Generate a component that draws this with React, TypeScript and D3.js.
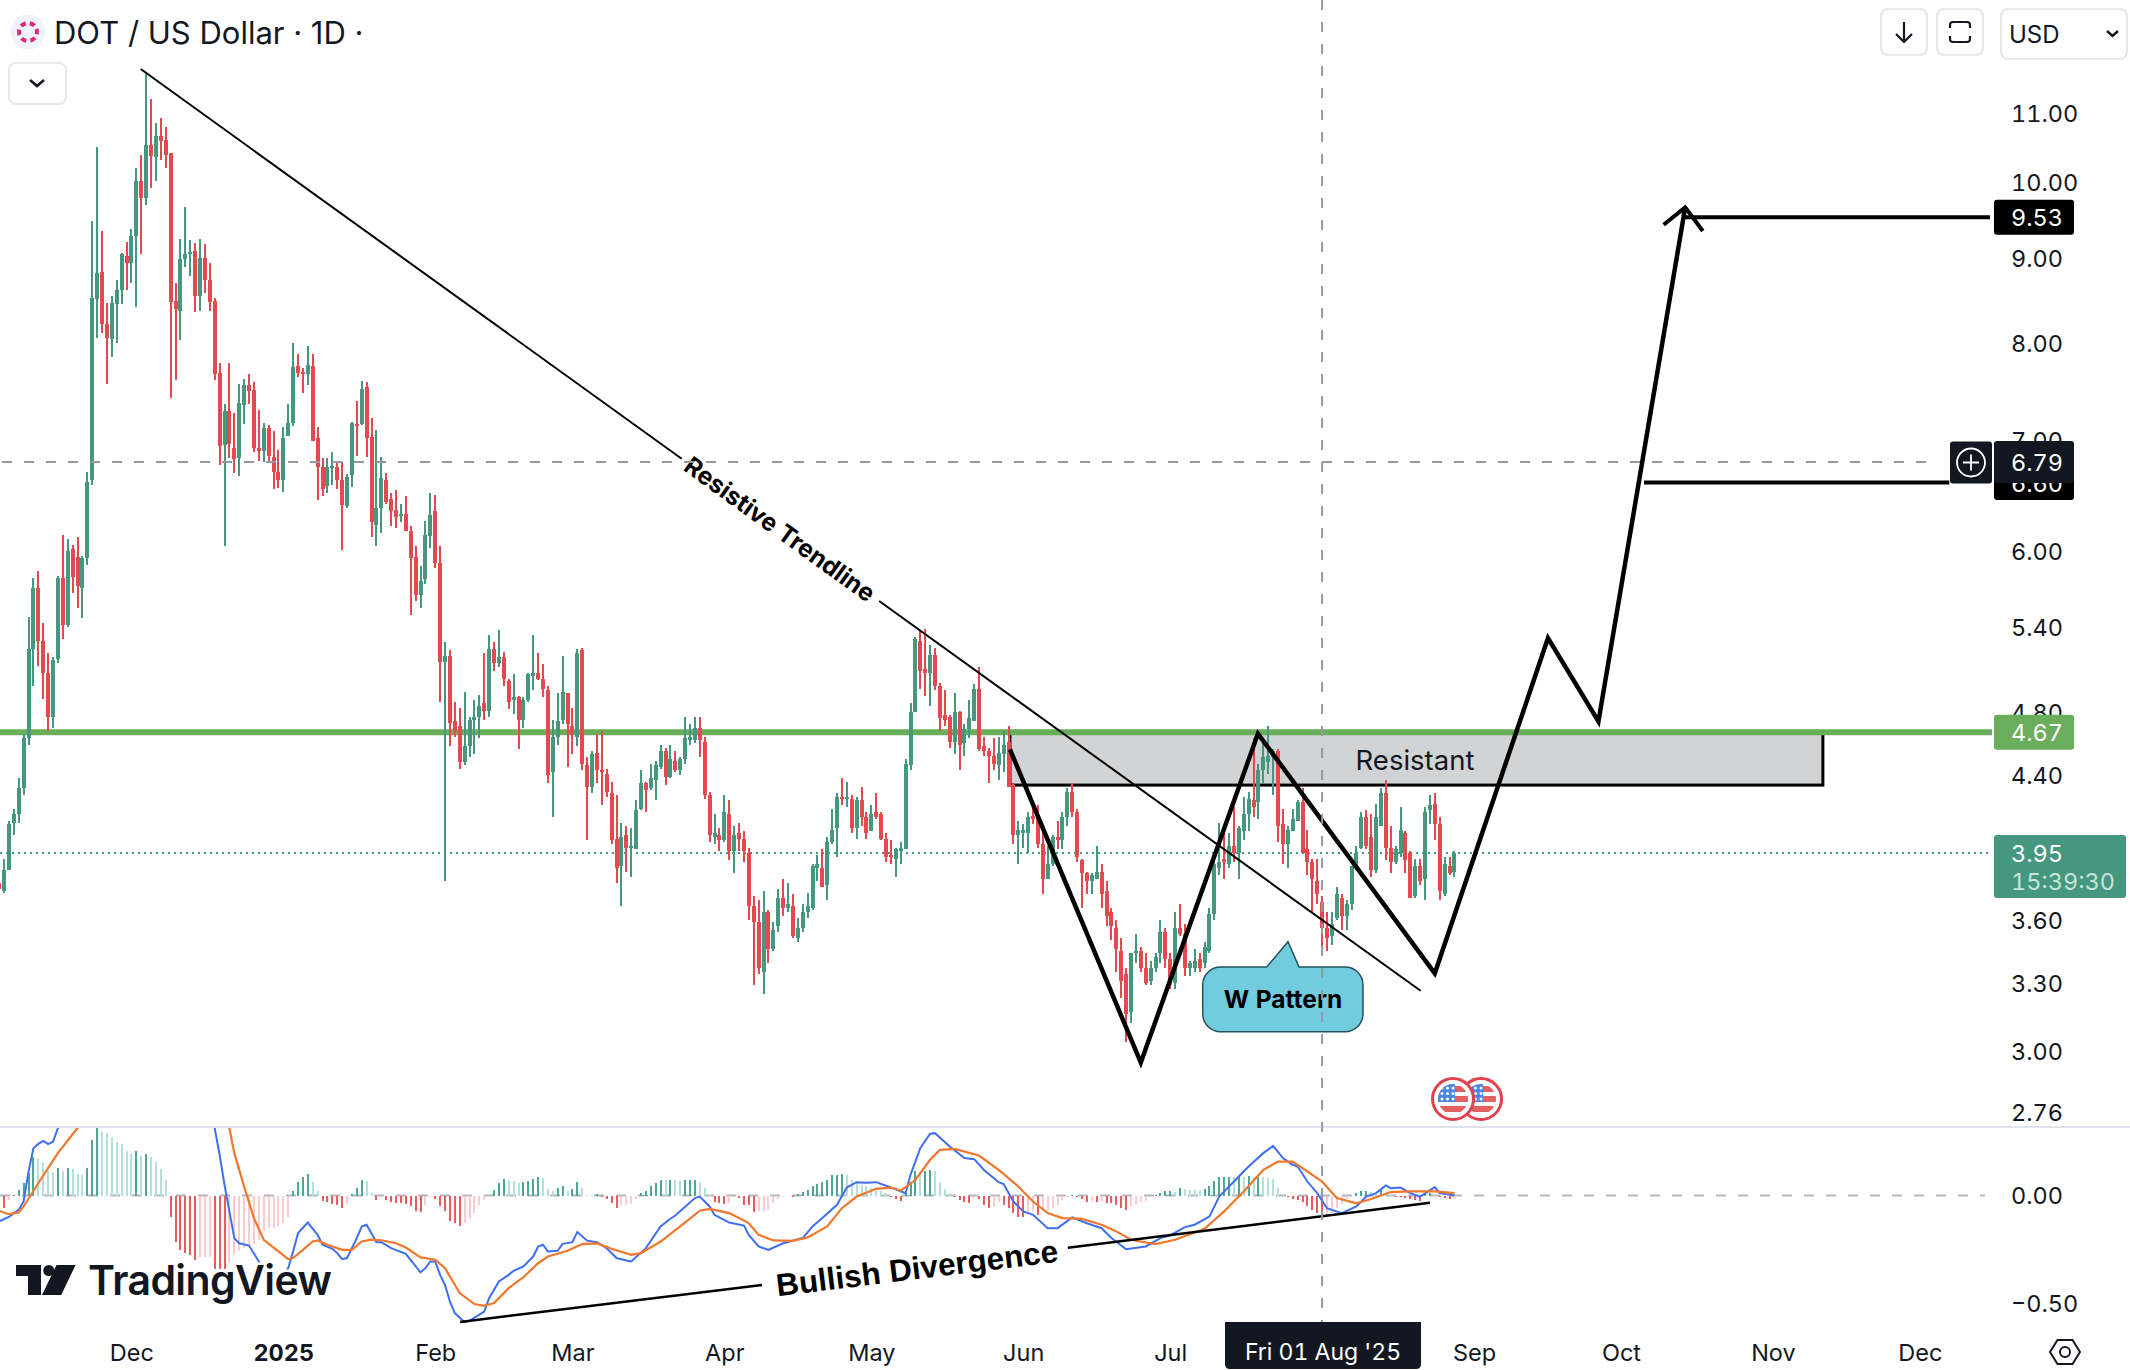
// App.tsx - DOT / USD daily chart with MACD pane and hand drawn annotations
import React, { useEffect, useRef } from "react";
import * as d3 from "d3";

const firstDay = Date.UTC(2024, 10, 4);
const lastDay = Date.UTC(2025, 11, 1);

const opens = [
  3.79,3.75,3.86,4.12,4.17,4.32,4.63,5.24,5.70,5.30,5.07,4.77,5.17,5.78,5.42,6.02,5.95,5.70,5.94,6.62,
  8.51,8.83,8.22,8.05,8.45,8.61,9.03,8.95,9.28,10.02,9.79,10.53,10.36,10.67,10.60,10.42,8.48,8.37,8.99,9.06,
  9.09,8.55,9.00,8.74,8.49,7.68,6.95,7.29,6.92,6.83,7.35,7.55,7.50,6.92,6.89,7.12,6.84,6.70,6.62,7.04,
  7.17,7.76,7.69,7.67,7.76,7.02,6.74,6.57,6.73,6.74,6.62,6.39,6.67,7.16,7.16,7.53,7.03,6.22,6.37,6.62,
  6.45,6.35,6.30,6.32,6.17,5.95,5.65,5.77,6.13,6.34,5.90,5.15,5.19,4.74,4.71,4.48,4.58,4.75,4.77,4.86,
  4.81,5.24,5.14,5.18,5.01,4.88,4.90,4.75,4.88,5.05,5.07,5.03,4.95,4.42,4.64,4.75,4.93,4.71,4.64,5.23,
  4.46,4.33,4.54,4.43,4.41,4.29,4.03,3.88,4.05,3.98,3.97,4.20,4.35,4.32,4.37,4.45,4.55,4.39,4.49,4.43,
  4.50,4.62,4.62,4.70,4.61,4.28,4.04,4.05,4.02,4.17,3.96,4.06,4.03,3.95,3.67,3.59,3.35,3.64,3.46,3.57,
  3.71,3.66,3.67,3.51,3.56,3.64,3.66,3.87,3.87,3.78,4.01,4.09,4.27,4.26,4.26,4.09,4.25,4.15,4.07,4.18,
  4.17,4.03,3.94,3.92,3.96,3.97,4.46,4.80,5.30,5.10,5.07,5.20,4.98,4.78,4.77,4.61,4.80,4.60,4.69,4.74,
  4.96,4.58,4.55,4.52,4.46,4.53,4.61,4.34,4.05,4.06,4.06,4.16,4.15,4.00,3.81,3.89,4.04,4.02,4.15,4.30,
  4.18,3.91,3.84,3.80,3.81,3.85,3.75,3.64,3.56,3.45,3.34,3.17,3.44,3.45,3.37,3.31,3.37,3.44,3.54,3.41,
  3.30,3.56,3.53,3.37,3.37,3.41,3.39,3.45,3.63,3.87,3.92,3.89,3.99,3.95,4.07,4.17,4.25,4.24,4.43,4.48,
  4.51,4.55,4.11,4.00,4.07,4.13,4.24,3.97,3.90,3.80,3.69,3.56,3.52,3.61,3.71,3.62,3.68,3.87,3.98,4.15,
  4.04,3.86,4.10,4.29,3.98,3.90,3.95,4.06,3.95,3.72,3.88,3.81,4.19,4.23,4.11,3.73,3.88,3.85,
];
const highs = [
  3.79,3.92,4.13,4.20,4.38,4.66,5.48,5.78,5.84,5.43,5.21,5.18,5.80,6.14,6.10,6.05,6.12,5.96,6.70,9.48,
  10.50,9.35,8.46,8.55,8.74,9.07,9.21,9.38,10.20,10.38,11.65,11.23,10.86,10.93,10.80,10.42,8.70,9.25,9.66,9.23,
  9.20,9.24,9.18,8.94,8.52,7.79,7.36,7.79,7.27,7.56,7.62,7.67,7.59,7.30,7.17,7.15,7.09,6.90,7.13,7.36,
  8.01,7.88,7.73,7.97,7.88,7.13,6.83,6.83,6.88,6.80,6.79,6.68,7.18,7.39,7.60,7.59,7.22,7.10,6.84,6.69,
  6.50,6.53,6.41,6.48,6.21,6.04,5.88,6.26,6.50,6.49,6.04,5.29,5.23,4.87,4.83,4.94,4.77,4.88,4.92,5.21,
  5.34,5.29,5.38,5.22,5.03,5.06,4.91,4.90,5.07,5.34,5.21,5.13,4.98,4.75,4.93,5.19,4.93,4.83,5.24,5.25,
  4.51,4.55,4.66,4.68,4.44,4.36,4.28,4.12,4.10,4.09,4.25,4.43,4.36,4.47,4.49,4.59,4.57,4.59,4.55,4.51,
  4.77,4.72,4.77,4.77,4.64,4.30,4.17,4.09,4.28,4.25,4.10,4.12,4.07,3.98,3.72,3.70,3.75,3.65,3.59,3.76,
  3.81,3.79,3.73,3.61,3.68,3.74,3.89,3.94,3.97,4.04,4.20,4.29,4.38,4.36,4.28,4.27,4.33,4.18,4.22,4.29,
  4.18,4.06,4.02,3.98,4.01,4.50,4.86,5.33,5.37,5.39,5.27,5.25,5.00,4.95,4.78,4.93,4.81,4.72,4.88,4.99,
  5.11,4.64,4.57,4.63,4.64,4.68,4.71,4.35,4.13,4.11,4.18,4.22,4.22,4.08,3.99,4.05,4.13,4.18,4.32,4.35,
  4.20,3.92,3.85,3.84,3.99,3.89,3.80,3.66,3.60,3.51,3.37,3.44,3.53,3.47,3.44,3.40,3.44,3.60,3.56,3.44,
  3.64,3.68,3.58,3.40,3.46,3.44,3.49,3.66,3.90,4.12,4.06,4.06,4.21,4.10,4.27,4.30,4.63,4.47,4.61,4.71,
  4.56,4.56,4.20,4.10,4.20,4.25,4.32,4.08,3.92,3.92,3.72,3.64,3.64,3.77,3.73,3.70,3.88,3.99,4.18,4.19,
  4.17,4.23,4.32,4.37,4.10,3.99,4.21,4.07,3.96,3.92,3.92,4.21,4.28,4.29,4.15,3.93,3.93,3.96,
];
const lows = [
  3.74,3.74,3.86,4.05,4.12,4.28,4.59,4.98,5.12,4.89,4.68,4.70,5.14,5.31,5.40,5.66,5.55,5.47,5.89,6.58,
  8.06,8.12,7.56,7.85,8.01,8.45,8.61,8.70,8.42,9.06,9.69,9.92,10.02,10.32,10.20,7.42,7.61,8.04,8.90,8.78,
  8.36,8.37,8.58,8.37,7.61,6.76,6.04,6.83,6.69,6.66,7.16,7.36,6.88,6.80,6.79,6.79,6.54,6.55,6.51,7.04,
  7.14,7.64,7.47,7.55,6.99,6.44,6.48,6.50,6.58,6.54,6.01,6.37,6.56,6.85,7.15,6.84,6.12,6.04,6.15,6.41,
  6.21,6.20,6.25,6.17,5.49,5.60,5.55,5.73,6.03,5.86,4.87,3.80,4.58,4.64,4.44,4.46,4.51,4.53,4.63,4.75,
  4.77,5.08,5.11,4.98,4.82,4.79,4.56,4.70,4.87,4.95,5.02,4.90,4.35,4.15,4.59,4.72,4.45,4.53,4.58,4.43,
  4.02,4.29,4.35,4.22,4.27,4.00,3.79,3.67,3.85,3.82,3.97,4.19,4.18,4.31,4.25,4.44,4.34,4.38,4.42,4.40,
  4.47,4.59,4.60,4.51,4.26,4.01,4.00,3.96,4.01,3.91,3.84,3.96,3.90,3.60,3.29,3.34,3.25,3.39,3.45,3.54,
  3.62,3.64,3.51,3.49,3.54,3.61,3.65,3.80,3.77,3.70,4.00,3.93,4.22,4.21,4.06,4.03,4.10,4.03,4.07,4.14,
  4.02,3.90,3.89,3.82,3.89,3.97,4.43,4.80,4.96,4.91,4.84,4.95,4.68,4.71,4.57,4.53,4.43,4.52,4.63,4.74,
  4.55,4.52,4.35,4.43,4.37,4.42,4.33,4.00,3.89,3.98,3.95,4.11,3.98,3.73,3.81,3.88,3.97,3.97,4.10,4.15,
  3.90,3.66,3.73,3.73,3.81,3.66,3.57,3.50,3.35,3.23,3.04,3.12,3.39,3.35,3.29,3.29,3.35,3.39,3.37,3.27,
  3.27,3.52,3.33,3.33,3.35,3.35,3.37,3.44,3.60,3.83,3.81,3.87,3.90,3.81,4.02,4.07,4.15,4.14,4.35,4.41,
  4.28,4.01,3.89,3.87,4.07,4.13,3.95,3.83,3.64,3.68,3.47,3.45,3.48,3.60,3.55,3.55,3.65,3.86,3.97,3.97,
  3.82,3.84,4.10,3.91,3.84,3.89,3.93,3.84,3.71,3.71,3.78,3.70,4.11,4.02,3.70,3.72,3.83,3.82,
];
const closes = [
  3.76,3.86,4.11,4.17,4.32,4.63,5.24,5.70,5.30,5.07,4.77,5.16,5.78,5.42,6.00,5.79,5.72,5.94,6.60,8.52,
  8.82,8.22,8.06,8.46,8.61,9.06,8.94,9.29,10.02,9.79,10.53,10.37,10.67,10.59,10.39,8.47,8.39,8.99,9.05,9.08,
  8.55,9.00,8.73,8.47,7.67,6.94,7.29,6.96,6.82,7.37,7.55,7.49,6.92,6.89,7.12,6.85,6.70,6.62,7.02,7.17,
  7.74,7.68,7.67,7.77,6.99,6.74,6.54,6.74,6.75,6.62,6.40,6.65,7.17,7.14,7.51,7.02,6.25,6.37,6.64,6.42,
  6.34,6.29,6.32,6.17,5.94,5.65,5.76,6.14,6.31,5.90,5.15,5.19,4.73,4.68,4.48,4.58,4.75,4.77,4.84,4.81,
  5.24,5.14,5.18,5.03,4.87,4.90,4.75,4.88,5.06,5.07,5.03,4.96,4.40,4.64,4.74,4.94,4.72,4.66,5.21,4.47,
  4.33,4.53,4.43,4.42,4.30,4.02,3.87,4.04,3.98,3.99,4.19,4.35,4.31,4.38,4.46,4.55,4.39,4.50,4.43,4.50,
  4.63,4.64,4.70,4.62,4.28,4.05,4.06,4.02,4.18,3.96,4.05,4.03,3.96,3.67,3.59,3.37,3.64,3.46,3.55,3.71,
  3.66,3.68,3.52,3.56,3.64,3.67,3.88,3.89,3.77,4.01,4.08,4.27,4.26,4.27,4.09,4.25,4.15,4.06,4.17,4.15,
  4.03,3.93,3.93,3.97,3.98,4.47,4.80,5.31,5.08,5.07,5.20,4.98,4.76,4.75,4.61,4.80,4.59,4.69,4.76,4.96,
  4.56,4.55,4.52,4.47,4.54,4.59,4.33,4.05,4.08,4.08,4.15,4.14,4.00,3.81,3.89,4.04,4.02,4.15,4.30,4.18,
  3.93,3.84,3.80,3.83,3.85,3.73,3.62,3.57,3.46,3.31,3.16,3.44,3.45,3.37,3.30,3.37,3.42,3.54,3.41,3.29,
  3.56,3.53,3.37,3.39,3.40,3.37,3.47,3.63,3.89,3.90,3.90,3.99,3.95,4.09,4.17,4.26,4.21,4.43,4.51,4.52,
  4.55,4.10,4.00,4.08,4.14,4.24,3.95,3.90,3.81,3.73,3.56,3.51,3.58,3.73,3.62,3.68,3.88,3.95,4.15,3.99,
  3.86,4.15,4.29,3.98,3.90,3.97,4.08,3.91,3.71,3.88,3.80,4.18,4.22,4.11,3.75,3.89,3.84,3.95,
];

// macd histogram, one bar per candle
const histogram = [
  -.051,-.059,-.02,.002,.026,.06,.104,.177,.174,.153,.112,.107,.13,.115,.127,.124,.101,.096,.127,.259,
  .313,.295,.29,.27,.248,.24,.208,.192,.208,.186,.194,.178,.158,.124,.073,-.102,-.214,-.253,-.268,-.276,
  -.299,-.287,-.286,-.285,-.341,-.342,-.343,-.307,-.276,-.26,-.242,-.229,-.226,-.206,-.167,-.152,-.151,-.144,-.129,-.098,
  .022,.062,.084,.102,.062,.019,-.025,-.031,-.039,-.043,-.056,-.04,.006,.037,.073,.068,.011,-.02,-.005,-.02,
  -.031,-.036,-.037,-.038,-.051,-.074,-.075,-.043,-.005,-.016,-.047,-.074,-.118,-.129,-.144,-.129,-.109,-.082,-.043,-.02,
  -.002,.026,.06,.076,.073,.068,.06,.061,.068,.076,.084,.081,.031,.023,.037,.042,.023,.031,.065,.037,
  .003,.002,.006,-.009,-.016,-.036,-.056,-.043,-.042,-.041,-.016,.011,.023,.042,.057,.073,.07,.073,.07,.069,
  .073,.073,.074,.065,.037,.003,-.028,-.036,-.04,-.036,-.001,-.012,-.043,-.044,-.079,-.074,-.071,-.067,-.036,-.016,
  -.005,-.002,-.005,.006,.014,.026,.042,.053,.062,.073,.096,.097,.1,.096,.073,.057,.05,.042,.034,.022,
  .019,.011,-.009,-.016,-.025,.011,.065,.115,.107,.116,.119,.112,.065,.031,.011,-.005,-.02,-.031,-.036,-.012,
  -.016,-.043,-.059,-.051,-.031,-.043,-.059,-.082,-.098,-.102,-.082,-.074,-.09,-.074,-.067,-.059,-.043,-.02,-.005,.003,
  -.009,-.016,-.028,-.025,-.028,-.025,-.033,-.036,-.043,-.059,-.067,-.051,-.043,-.031,-.025,-.009,.003,.011,.019,.022,
  .016,.037,.029,.026,.025,.024,.029,.042,.068,.084,.085,.088,.087,.093,.088,.093,.085,.088,.087,.081,
  .078,.034,0,-.009,-.016,-.02,-.031,-.051,-.067,-.082,-.102,-.101,-.082,-.059,-.04,-.016,0,.011,.022,.023,
  .016,.006,.026,.011,.003,-.005,-.009,-.012,-.016,-.02,-.025,.006,.011,.003,-.009,-.012,-.016,-.015,
];

const macdDays = [
  0,2,4,5,6,7,8,9,10,11,12,14,20,30,40,44,45,46,47,48,49,51,53,55,57,59,60,61,62,63,65,66,68,69,70,71,73,74,75,77,78,80,83,86,87,88,89,90,91,92,93,95,96,99,100,102,104,105,107,109,110,111,112,114,115,117,118,120,122,124,126,128,129,132,135,137,138,142,143,145,146,147,149,152,153,155,157,160,164,166,168,171,173,175,177,179,182,185,186,188,190,191,194,197,199,201,204,205,207,209,211,214,216,219,222,225,227,230,234,237,239,242,244,247,249,252,255,258,260,262,264,265,267,269,271,274,277,279,281,283,284,286,288,290,293,294,297,
];
const macdValues = [
  -.12,-.10,-.067,-.028,.11,.22,.24,.254,.239,.25,.313,.38,.52,.72,.66,.313,.19,.05,-.074,-.198,-.222,-.233,-.307,-.38,-.40,-.338,-.26,-.175,-.15,-.126,-.183,-.229,-.248,-.268,-.296,-.291,-.198,-.144,-.136,-.217,-.217,-.245,-.271,-.357,-.338,-.307,-.307,-.369,-.416,-.493,-.547,-.589,-.583,-.54,-.478,-.40,-.369,-.35,-.33,-.284,-.237,-.229,-.26,-.257,-.225,-.217,-.17,-.21,-.217,-.245,-.291,-.302,-.307,-.245,-.144,-.108,-.093,-.012,-.005,-.051,-.09,-.102,-.126,-.14,-.183,-.237,-.253,-.222,-.198,-.144,-.105,-.043,.037,.062,.059,.062,.037,.011,.096,.22,.287,.29,.228,.174,.169,.119,.062,.053,-.028,-.074,-.09,-.152,-.152,-.102,-.129,-.152,-.198,-.25,-.237,-.198,-.186,-.147,-.136,-.098,-.005,.065,.135,.197,.231,.174,.143,.135,.065,.011,-.059,-.082,-.051,-.005,.011,.047,.034,.037,.011,-.005,.039,.011,0,
];
const signalDays = [
  0,2,4,5,8,10,12,15,16,20,30,40,47,48,50,52,54,57,59,60,62,64,65,67,70,72,74,76,78,81,83,86,89,91,94,97,99,101,104,107,110,112,116,119,122,125,129,131,135,139,143,145,149,152,153,155,158,162,165,169,172,175,179,182,184,187,190,192,195,200,204,208,211,214,217,221,225,228,231,236,240,246,250,254,258,261,264,266,270,273,277,280,284,288,293,297,
];
const signalValues = [
  -.071,-.087,-.079,-.051,.057,.127,.197,.285,.313,.42,.56,.50,.313,.197,.042,-.105,-.206,-.26,-.296,-.291,-.253,-.214,-.209,-.229,-.253,-.253,-.214,-.205,-.208,-.222,-.242,-.288,-.299,-.338,-.454,-.505,-.513,-.50,-.431,-.38,-.315,-.284,-.257,-.226,-.223,-.248,-.276,-.268,-.214,-.144,-.071,-.062,-.082,-.116,-.129,-.183,-.209,-.211,-.195,-.144,-.059,-.005,.031,.037,.023,.073,.166,.212,.217,.186,.119,.042,-.028,-.082,-.105,-.109,-.136,-.167,-.206,-.226,-.206,-.155,-.074,.019,.119,.158,.158,.127,.065,-.012,-.036,-.016,.016,.019,.019,.011,
];

const priceTicks = [11, 10, 9, 8, 7, 6, 5.4, 4.8, 4.4, 4, 3.6, 3.3, 3, 2.76];
const macdTicks = [0, -0.5];
const monthTicks = [
  Date.UTC(2024, 11, 1), Date.UTC(2025, 0, 1), Date.UTC(2025, 1, 1), Date.UTC(2025, 2, 1),
  Date.UTC(2025, 3, 1), Date.UTC(2025, 4, 1), Date.UTC(2025, 5, 1), Date.UTC(2025, 6, 1),
  Date.UTC(2025, 8, 1), Date.UTC(2025, 9, 1), Date.UTC(2025, 10, 1), Date.UTC(2025, 11, 1),
];
const monthLabels = ["Dec", "2025", "Feb", "Mar", "Apr", "May", "Jun", "Jul", "Sep", "Oct", "Nov", "Dec"];

// annotations, [day, price]
const trendLeft = [[28.9, 11.7], [139.3, 6.82]];
const trendRight = [[179.6, 5.6], [290.1, 3.264]];
const wPattern = [[206.3, 4.56], [233, 2.955], [256.9, 4.66], [293, 3.344], [316.1, 5.32], [326.4, 4.74], [344.1, 9.66]];
const arrowHead = [[339.7, 9.43], [344.1, 9.66], [347.7, 9.35]];
const targetHigh = [[344.1, 9.53], [406.3, 9.53]];
const targetMid = [[335.7, 6.6], [398, 6.6]];
const resistantBox = { days: [206.3, 372.2], prices: [4.67, 4.34] };
const divergenceLeft = [[94.1, -0.588], [155.7, -0.416]];
const divergenceRight = [[218.1, -0.243], [292, -0.034]];

const INK = "#131722";
const GREEN = "#46977f";
const RED = "#e3494f";
const GRID_GREY = "#9598a1";
const FONT = "Inter, 'Liberation Sans', sans-serif";

const App: React.FC = () => {
  const ref = useRef<SVGSVGElement | null>(null);

  useEffect(() => {
    const svg = d3.select(ref.current);
    svg.selectAll("*").remove();
    svg.style("font-family", FONT).style("font-variant-numeric", "tabular-nums");

    const x = d3.scaleUtc().domain([firstDay, lastDay]).range([-0.9, 1919.9]);
    const y = d3.scaleLog().domain([3, 11]).range([1051.7, 113.6]);
    const macdY = d3.scaleLinear().domain([0, -0.5]).range([1195.5, 1303]);
    const dayX = (d: number) => x(firstDay + d * 864e5);

    const defs = svg.append("defs");
    defs.append("clipPath").attr("id", "pricePane").append("rect").attr("width", 1992).attr("height", 1126);
    defs.append("clipPath").attr("id", "macdPane").append("rect").attr("y", 1128).attr("width", 1992).attr("height", 198);

    // price pane under the candles
    const pane = svg.append("g").attr("clip-path", "url(#pricePane)");
    pane.append("line").attr("x1", 0).attr("x2", 1992).attr("y1", y(3.95)).attr("y2", y(3.95))
      .attr("stroke", GREEN).attr("stroke-width", 2).attr("stroke-dasharray", "2 4");
    pane.append("rect")
      .attr("x", dayX(resistantBox.days[0])).attr("width", dayX(resistantBox.days[1]) - dayX(resistantBox.days[0]))
      .attr("y", y(resistantBox.prices[0])).attr("height", y(resistantBox.prices[1]) - y(resistantBox.prices[0]))
      .attr("fill", "#d2d3d5").attr("stroke", "#000").attr("stroke-width", 3);
    pane.append("line").attr("x1", 0).attr("x2", 1992).attr("y1", y(4.67)).attr("y2", y(4.67))
      .attr("stroke", "#6aae5c").attr("stroke-width", 6);

    // candles
    const candles = pane.append("g").attr("shape-rendering", "crispEdges");
    const color = (i: number) => (closes[i] >= opens[i] ? GREEN : RED);
    candles.selectAll("rect.wick").data(d3.range(opens.length)).join("rect").attr("class", "wick")
      .attr("x", (i) => Math.round(dayX(i)) - 1).attr("width", 2)
      .attr("y", (i) => y(highs[i])).attr("height", (i) => y(lows[i]) - y(highs[i]))
      .attr("fill", color);
    candles.selectAll("rect.body").data(d3.range(opens.length)).join("rect").attr("class", "body")
      .attr("x", (i) => Math.round(dayX(i)) - 2).attr("width", 4)
      .attr("y", (i) => y(Math.max(opens[i], closes[i])))
      .attr("height", (i) => Math.max(2, Math.abs(y(opens[i]) - y(closes[i]))))
      .attr("fill", color);

    // drawings on the price pane
    const priceLine = d3.line<number[]>().x((d) => dayX(d[0])).y((d) => y(d[1]));
    const draw = (data: number[][], width: number) =>
      pane.append("path").attr("d", priceLine(data)).attr("fill", "none").attr("stroke", "#000")
        .attr("stroke-width", width).attr("stroke-linejoin", "miter");
    draw(trendLeft, 2);
    draw(trendRight, 2);
    draw(wPattern, 4.5);
    draw(arrowHead, 4);
    draw(targetHigh, 4);
    draw(targetMid, 4);

    pane.append("text").text("Resistive Trendline")
      .attr("transform", "translate(780,529) rotate(35.8)")
      .attr("text-anchor", "middle").attr("dominant-baseline", "central")
      .attr("font-weight", 700).attr("font-size", 24.5).attr("fill", "#000");
    pane.append("text").text("Resistant")
      .attr("x", 1415).attr("y", 770).attr("text-anchor", "middle")
      .attr("font-size", 27.5).attr("fill", INK);

    // W Pattern balloon
    const b = d3.path();
    b.moveTo(1266.7, 967);
    b.lineTo(1288, 941.7);
    b.lineTo(1299, 967);
    b.lineTo(1345, 967);
    b.arcTo(1363, 967, 1363, 985, 18);
    b.lineTo(1363, 1013.7);
    b.arcTo(1363, 1031.7, 1345, 1031.7, 18);
    b.lineTo(1220.7, 1031.7);
    b.arcTo(1202.7, 1031.7, 1202.7, 1013.7, 18);
    b.lineTo(1202.7, 985);
    b.arcTo(1202.7, 967, 1220.7, 967, 18);
    b.closePath();
    pane.append("path").attr("d", b.toString()).attr("fill", "#72cce0").attr("stroke", "#24505e").attr("stroke-width", 1.5);
    pane.append("text").text("W Pattern").attr("x", 1283).attr("y", 1007.5).attr("text-anchor", "middle")
      .attr("font-weight", 700).attr("font-size", 24.5).attr("fill", "#000");

    // economic event flags
    defs.append("clipPath").attr("id", "flagA").append("circle").attr("cx", 1481).attr("cy", 1099).attr("r", 15);
    defs.append("clipPath").attr("id", "flagB").append("circle").attr("cx", 1453).attr("cy", 1099).attr("r", 15);
    [[1481, "flagA"], [1453, "flagB"]].forEach(([cx, id]) => {
      const c = cx as number;
      pane.append("circle").attr("cx", c).attr("cy", 1099).attr("r", 20.5).attr("fill", "#fff").attr("stroke", "#e0434f").attr("stroke-width", 3);
      const g = pane.append("g").attr("clip-path", `url(#${id})`);
      g.append("rect").attr("x", c - 15).attr("y", 1084).attr("width", 30).attr("height", 30).attr("fill", "#fff");
      [1086, 1096, 1106].forEach((sy) =>
        g.append("rect").attr("x", c - 15).attr("y", sy).attr("width", 30).attr("height", 6).attr("fill", "#e2605f"));
      g.append("rect").attr("x", c - 15).attr("y", 1084).attr("width", 17).attr("height", 18).attr("fill", "#4a86dc");
      d3.range(3).forEach((r) => d3.range(3).forEach((s) =>
        g.append("circle").attr("cx", c - 11 + s * 5.5).attr("cy", 1088 + r * 5.5).attr("r", 1.5).attr("fill", "#fff")));
    });

    // macd pane
    svg.append("line").attr("x1", 0).attr("x2", 2130).attr("y1", 1127).attr("y2", 1127)
      .attr("stroke", "#e0e3eb").attr("stroke-width", 2);
    svg.append("line").attr("x1", 0).attr("x2", 1985).attr("y1", macdY(0)).attr("y2", macdY(0))
      .attr("stroke", "#b2b5be").attr("stroke-width", 2).attr("stroke-dasharray", "10 12");

    const macd = svg.append("g").attr("clip-path", "url(#macdPane)");
    const barColor = (i: number) => {
      const v = histogram[i];
      const prev = i > 0 ? histogram[i - 1] : v;
      if (v >= 0) return v >= prev ? "#4fa596" : "#b5dfd9";
      return v < prev ? "#ea5b5e" : "#f8ccd0";
    };
    macd.append("g").attr("shape-rendering", "crispEdges")
      .selectAll("rect").data(d3.range(histogram.length)).join("rect")
      .attr("x", (i) => Math.round(dayX(i)) - 1).attr("width", 2)
      .attr("y", (i) => Math.min(macdY(0), macdY(histogram[i])))
      .attr("height", (i) => Math.abs(macdY(histogram[i]) - macdY(0)))
      .attr("fill", barColor);

    const macdLine = d3.line<number>().x((d) => dayX(d));
    macd.append("path")
      .attr("d", macdLine.y((_, i) => macdY(macdValues[i]))(macdDays))
      .attr("fill", "none").attr("stroke", "#3f6ff0").attr("stroke-width", 2);
    macd.append("path")
      .attr("d", macdLine.y((_, i) => macdY(signalValues[i]))(signalDays))
      .attr("fill", "none").attr("stroke", "#f0772b").attr("stroke-width", 2.2);

    const divLine = d3.line<number[]>().x((d) => dayX(d[0])).y((d) => macdY(d[1]));
    [divergenceLeft, divergenceRight].forEach((d) =>
      svg.append("path").attr("d", divLine(d)).attr("fill", "none").attr("stroke", "#000").attr("stroke-width", 2.5));
    svg.append("text").text("Bullish Divergence")
      .attr("transform", "translate(917,1268) rotate(-7)")
      .attr("text-anchor", "middle").attr("dominant-baseline", "central")
      .attr("font-weight", 700).attr("font-size", 31.5).attr("font-family", "'Liberation Sans', sans-serif").attr("fill", "#000");

    // TradingView logo
    const logo = svg.append("g").attr("fill", INK);
    logo.append("text").text("TradingView").attr("x", 88).attr("y", 1295)
      .attr("font-weight", 600).attr("font-size", 41).attr("letter-spacing", -0.6)
      .attr("stroke", "#fff").attr("stroke-width", 5).attr("paint-order", "stroke");
    logo.append("path").attr("d", "M16 1265H41V1295H28V1276H16Z");
    logo.append("circle").attr("cx", 48.8).attr("cy", 1270.5).attr("r", 5.5);
    logo.append("path").attr("d", "M56.5 1265H75.6L61.2 1295H42Z");

    // crosshair
    const cross = svg.append("g").attr("stroke", GRID_GREY).attr("stroke-width", 2).attr("stroke-dasharray", "10 12");
    cross.append("line").attr("x1", 2).attr("x2", 1938).attr("y1", y(6.79)).attr("y2", y(6.79));
    cross.append("line").attr("x1", dayX(270)).attr("x2", dayX(270)).attr("y1", 0).attr("y2", 1322);

    // price axis
    const axisFont = (g: d3.Selection<SVGGElement, unknown, null, undefined>) => {
      g.select(".domain").remove();
      g.attr("font-size", 23.5).attr("font-family", FONT);
      g.selectAll("text").attr("fill", INK);
    };
    svg.append("g").attr("transform", "translate(2011,0.7)")
      .call(d3.axisRight(y).tickValues(priceTicks).tickFormat(d3.format(".2f")).tickSize(0).tickPadding(0))
      .call(axisFont);
    svg.append("g").attr("transform", "translate(2011,0.7)")
      .call(d3.axisRight(macdY).tickValues(macdTicks).tickFormat(d3.format(".2f")).tickSize(0).tickPadding(0))
      .call(axisFont);

    // time axis
    const timeAxis = svg.append("g").attr("transform", "translate(0,1344)")
      .call(d3.axisBottom(x).tickValues(monthTicks as any).tickFormat((_, i) => monthLabels[i]).tickSize(0).tickPadding(0))
      .call(axisFont);
    timeAxis.selectAll("text").attr("font-weight", (_, i) => (monthLabels[i] === "2025" ? 700 : 400));

    // price labels
    const priceLabel = (yc: number, h: number, fill: string, txt: string, w = 80) => {
      svg.append("rect").attr("x", 1994).attr("y", yc - h / 2).attr("width", w).attr("height", h).attr("rx", 3).attr("fill", fill);
      svg.append("text").text(txt).attr("x", 2011).attr("y", yc + 0.7).attr("dominant-baseline", "central")
        .attr("font-size", 23.5).attr("fill", "#fff");
    };
    priceLabel(y(9.53), 35, "#000", "9.53");
    priceLabel(y(6.6), 35, "#000", "6.60");
    priceLabel(y(6.79), 42, INK, "6.79");
    priceLabel(y(4.67), 35, "#6aae5c", "4.67");

    svg.append("rect").attr("x", 1994).attr("y", 835).attr("width", 132).attr("height", 63).attr("rx", 3).attr("fill", GREEN);
    svg.append("text").text("3.95").attr("x", 2011).attr("y", y(3.95) + 0.7).attr("dominant-baseline", "central")
      .attr("font-size", 23.5).attr("fill", "#fff");
    svg.append("text").text("15:39:30").attr("x", 2011).attr("y", 881).attr("dominant-baseline", "central")
      .attr("font-size", 23.5).attr("fill", "#c5e3da");

    // plus button beside the crosshair price
    svg.append("rect").attr("x", 1950).attr("y", 441.5).attr("width", 42).attr("height", 42).attr("rx", 3).attr("fill", INK);
    svg.append("circle").attr("cx", 1971).attr("cy", 462.5).attr("r", 14).attr("fill", "none").attr("stroke", "#fff").attr("stroke-width", 1.8);
    svg.append("path").attr("d", "M1963 462.5H1979M1971 454.5V470.5").attr("stroke", "#fff").attr("stroke-width", 1.8);

    // time label
    svg.append("path").attr("d", "M1225 1322H1421V1364Q1421 1369 1416 1369H1230Q1225 1369 1225 1364Z").attr("fill", INK);
    svg.append("text").text("Fri 01 Aug '25").attr("x", 1323).attr("y", 1352).attr("text-anchor", "middle")
      .attr("dominant-baseline", "central").attr("font-size", 23).attr("fill", "#fff");

    // settings hexagon
    svg.append("path").attr("d", "M2050 1352L2057.5 1340H2072.5L2080 1352L2072.5 1364H2057.5Z")
      .attr("fill", "none").attr("stroke", INK).attr("stroke-width", 2);
    svg.append("circle").attr("cx", 2065).attr("cy", 1352).attr("r", 5).attr("fill", "none").attr("stroke", INK).attr("stroke-width", 2);

    // header
    svg.append("circle").attr("cx", 28).attr("cy", 32).attr("r", 17.5).attr("fill", "#f0f3fa");
    svg.append("circle").attr("cx", 28).attr("cy", 32).attr("r", 9).attr("fill", "none").attr("stroke", "#e0267c")
      .attr("stroke-width", 4).attr("stroke-dasharray", "5.4 4").attr("transform", "rotate(-20 28 32)");
    svg.append("text").text("DOT / US Dollar · 1D ·").attr("x", 54).attr("y", 44).attr("font-size", 31).attr("fill", INK)
      .style("font-variant-numeric", "normal");

    const button = (bx: number, by: number, w: number, h: number) =>
      svg.append("rect").attr("x", bx).attr("y", by).attr("width", w).attr("height", h).attr("rx", 7)
        .attr("fill", "#fff").attr("stroke", "#e6e7ea").attr("stroke-width", 2);
    const icon = (d: string, w = 2.2) =>
      svg.append("path").attr("d", d).attr("fill", "none").attr("stroke", INK).attr("stroke-width", w);

    button(9, 63, 57, 41);
    icon("M30 80L37 86L44 80", 2.6);
    button(1881, 9, 46, 46);
    icon("M1904 22V42M1896 34L1904 42L1912 34");
    button(1937, 9, 46, 46);
    icon("M1950 28V25Q1950 22 1953 22H1967Q1970 22 1970 25V28M1950 36V39Q1950 42 1953 42H1967Q1970 42 1970 39V36");
    button(2001, 9, 126, 50);
    svg.append("text").text("USD").attr("x", 2009).attr("y", 43).attr("font-size", 24).attr("fill", INK);
    icon("M2107 31L2112.5 36L2118 31", 2.4);
  }, []);

  return <svg ref={ref} width={2130} height={1370} style={{ position: "absolute", left: 0, top: 0, display: "block" }} />;
};

export default App;
